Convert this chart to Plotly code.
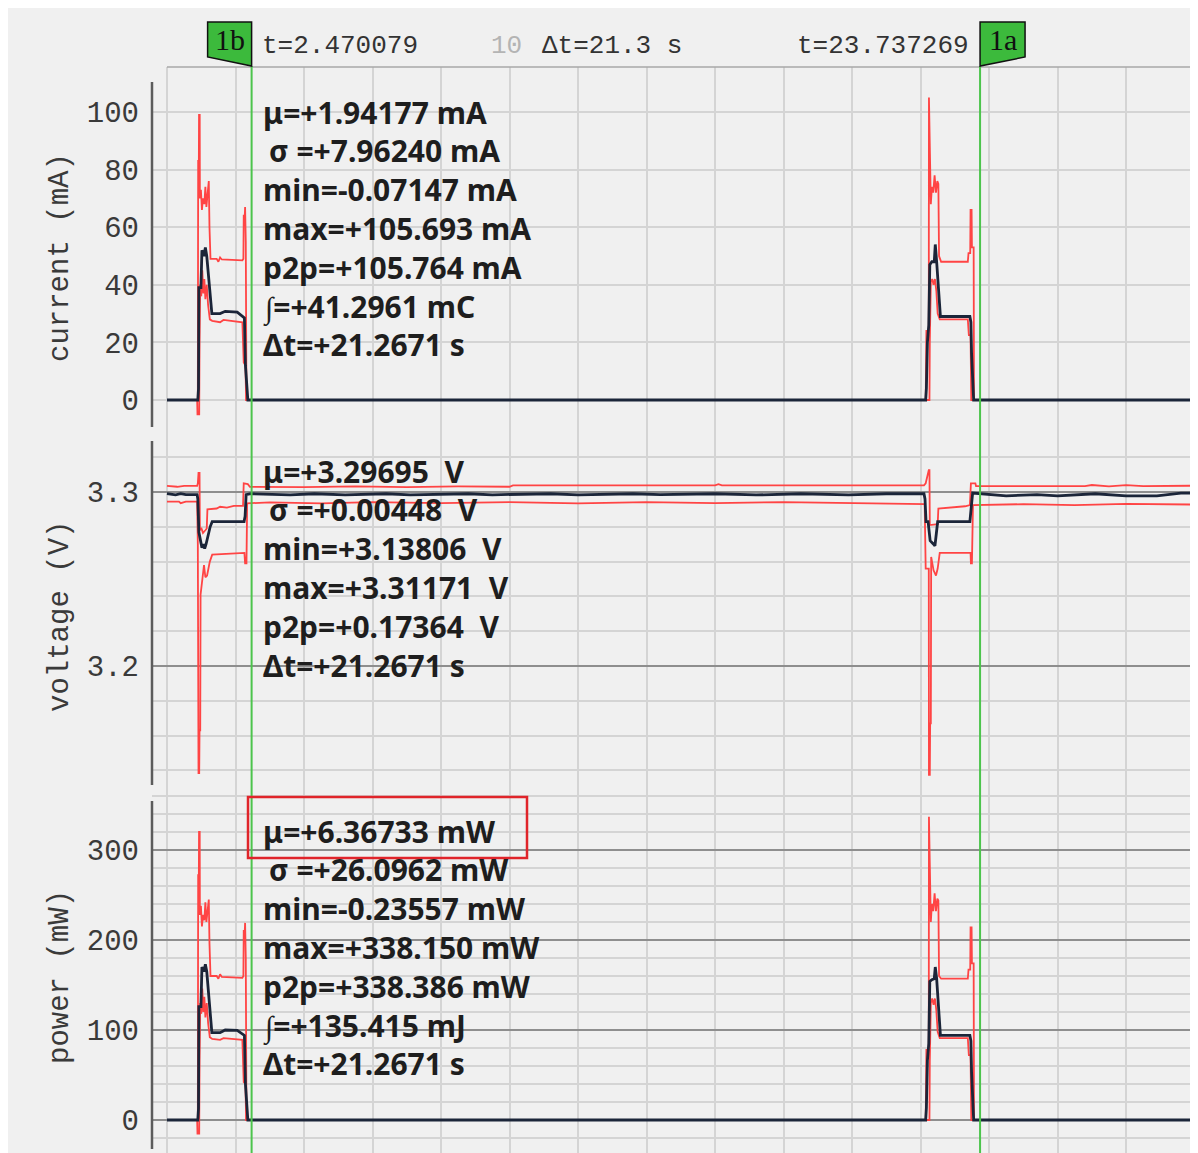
import plotly.graph_objects as go
from plotly.subplots import make_subplots

# the page puts the figure 8px in from the top-left corner of a 1198x1153 window
W, H = 1190, 1145
OFF = 8

# cursor positions (s)
cursor_b = 2.470079
cursor_a = 23.737269

# (time s, value) pairs
cur_mean = [(0, 0), (0.90, 0), (0.92, 4), (0.93, 39), (0.99, 39), (1.02, 52), (1.08, 50), (1.12, 53),
            (1.16, 50), (1.28, 32), (1.31, 30), (1.55, 30), (1.70, 30.8), (2.05, 30.5), (2.15, 29.5),
            (2.26, 28.5), (2.29, 12), (2.33, 5), (2.36, 0), (22.15, 0), (22.17, 4), (22.20, 20),
            (22.24, 26), (22.27, 47), (22.33, 48), (22.40, 48), (22.43, 54), (22.47, 48), (22.55, 36),
            (22.58, 29), (23.44, 29), (23.47, 27), (23.49, 16), (23.55, 0), (29.96, 0)]
cur_max = [(0, 0), (0.90, 0), (0.91, 83), (0.93, 83), (0.935, 99), (0.955, 99), (0.96, 70), (0.99, 73),
           (1.02, 66), (1.05, 70), (1.09, 68), (1.12, 74), (1.15, 67), (1.19, 72), (1.22, 76), (1.24, 60),
           (1.27, 49), (1.45, 49), (1.50, 48), (1.55, 49.5), (1.60, 48.8), (2.20, 48.5), (2.23, 49),
           (2.24, 64), (2.27, 64), (2.28, 67), (2.30, 55), (2.32, 0), (22.15, 0), (22.17, 24), (22.24, 24),
           (22.245, 105), (22.26, 95), (22.28, 80), (22.30, 68), (22.33, 74), (22.37, 72), (22.41, 78),
           (22.45, 72), (22.49, 76), (22.52, 75), (22.54, 50), (22.60, 48), (23.38, 48), (23.40, 51),
           (23.45, 51), (23.46, 66), (23.49, 66), (23.50, 53), (23.55, 53), (23.56, 0), (29.96, 0)]
cur_min = [(0, 0), (0.88, 0), (0.89, -5), (0.94, -5), (0.95, 20), (0.97, 40), (1.00, 36), (1.03, 45),
           (1.06, 37), (1.09, 42), (1.12, 35), (1.16, 40), (1.20, 33), (1.25, 28), (1.32, 27.5),
           (1.55, 27), (1.65, 27.8), (2.20, 27), (2.24, 13), (2.29, 12), (2.31, 0), (22.15, 0),
           (22.26, 0), (22.27, 20), (22.30, 41), (22.34, 42), (22.38, 40), (22.42, 42), (22.46, 38),
           (22.50, 30), (22.56, 28), (23.38, 28), (23.41, 22.5), (23.46, 22.5), (23.48, 0), (29.96, 0)]

volt_mean = [(0, 3.2990), (0.25, 3.2983), (0.40, 3.2990), (0.55, 3.2985), (0.88, 3.2985), (0.90, 3.2960),
             (0.93, 3.2770), (1.02, 3.2680), (1.06, 3.2700), (1.10, 3.2675), (1.14, 3.2700),
             (1.20, 3.2760), (1.26, 3.2800), (1.32, 3.2830), (2.25, 3.2830), (2.28, 3.2860),
             (2.31, 3.2985), (2.45, 3.2990), (3.6, 3.2983), (4.3, 3.2990), (5.2, 3.2984), (6.4, 3.2990),
             (7.1, 3.2983), (8.8, 3.2990), (9.5, 3.2984), (11.2, 3.2990), (12.0, 3.2983), (13.6, 3.2990),
             (14.4, 3.2985), (16.0, 3.2990), (17.2, 3.2983), (18.5, 3.2990), (19.9, 3.2984),
             (21.0, 3.2990), (22.10, 3.2990), (22.13, 3.2960), (22.16, 3.2830), (22.22, 3.2830),
             (22.28, 3.2720), (22.38, 3.2700), (22.42, 3.2690), (22.46, 3.2760), (22.50, 3.2830),
             (23.44, 3.2830), (23.47, 3.2900), (23.52, 3.2994), (24.5, 3.2978), (25.4, 3.2985),
             (26.0, 3.2978), (27.1, 3.2990), (28.0, 3.2978), (28.9, 3.2978), (29.6, 3.2994), (29.96, 3.2994)]
volt_max = [(0, 3.3035), (0.30, 3.3030), (0.50, 3.3035), (0.88, 3.3035), (0.90, 3.3050), (0.92, 3.3110),
            (0.95, 3.3110), (0.96, 3.2780), (1.00, 3.2795), (1.05, 3.2765), (1.12, 3.2780),
            (1.16, 3.2790), (1.18, 3.2900), (1.45, 3.2905), (1.55, 3.2915), (1.75, 3.2910),
            (1.95, 3.2920), (2.22, 3.2920), (2.24, 3.3050), (2.36, 3.3045), (2.42, 3.3030),
            (4.0, 3.3028), (5.5, 3.3032), (7.0, 3.3028), (8.5, 3.3032), (10.0, 3.3030), (10.1, 3.3038),
            (16.0, 3.3038), (16.1, 3.3045), (16.2, 3.3038), (22.10, 3.3038), (22.15, 3.3050),
            (22.24, 3.3126), (22.26, 3.3126), (22.27, 3.2810), (22.50, 3.2815), (22.52, 3.2905),
            (22.90, 3.2910), (23.30, 3.2918), (23.44, 3.2925), (23.47, 3.3050), (23.60, 3.3050),
            (23.62, 3.3034), (26.8, 3.3034), (27.0, 3.3040), (27.5, 3.3032), (28.0, 3.3040),
            (28.5, 3.3034), (29.96, 3.3036)]
volt_min = [(0, 3.2945), (0.35, 3.2945), (0.40, 3.2936), (0.55, 3.2945), (0.88, 3.2945), (0.90, 3.2700),
            (0.92, 3.1385), (0.94, 3.1385), (0.95, 3.1630), (0.97, 3.1630), (0.98, 3.2410),
            (1.03, 3.2480), (1.08, 3.2580), (1.12, 3.2510), (1.17, 3.2520), (1.25, 3.2600),
            (1.32, 3.2640), (2.26, 3.2650), (2.28, 3.2590), (2.32, 3.2590), (2.34, 3.2935),
            (3.0, 3.2940), (4.5, 3.2935), (6.0, 3.2942), (8.0, 3.2936), (10.0, 3.2942), (12.0, 3.2935),
            (14.0, 3.2942), (16.0, 3.2936), (18.0, 3.2942), (20.0, 3.2936), (22.12, 3.2930),
            (22.15, 3.2560), (22.24, 3.2560), (22.245, 3.1374), (22.27, 3.1374), (22.28, 3.1670),
            (22.30, 3.1670), (22.31, 3.2627), (22.38, 3.2550), (22.45, 3.2520), (22.50, 3.2560),
            (22.56, 3.2650), (23.46, 3.2650), (23.47, 3.2590), (23.50, 3.2590), (23.53, 3.2925),
            (25.0, 3.2930), (26.5, 3.2924), (28.0, 3.2932), (29.96, 3.2928)]

pow_mean = [(0, 0), (0.90, 0), (0.92, 13), (0.93, 126), (0.99, 126), (1.02, 170), (1.08, 165), (1.12, 173),
            (1.16, 165), (1.28, 105), (1.31, 97), (1.55, 97), (1.70, 100), (2.05, 99.5), (2.15, 97),
            (2.26, 94), (2.29, 40), (2.33, 15), (2.36, 0), (22.15, 0), (22.17, 13), (22.20, 66),
            (22.24, 85), (22.27, 154), (22.33, 156), (22.40, 157), (22.43, 170), (22.47, 157),
            (22.55, 115), (22.58, 94), (23.44, 94), (23.47, 88), (23.49, 53), (23.55, 0), (29.96, 0)]
pow_max = [(0, 0), (0.90, 0), (0.91, 272), (0.93, 272), (0.935, 320), (0.955, 320), (0.96, 228), (0.99, 238),
           (1.02, 215), (1.05, 228), (1.09, 222), (1.12, 242), (1.15, 220), (1.19, 235), (1.22, 245),
           (1.24, 196), (1.27, 160), (1.45, 160), (1.50, 157), (1.55, 162), (1.60, 159), (2.20, 158),
           (2.23, 160), (2.24, 210), (2.27, 210), (2.28, 219), (2.30, 180), (2.32, 0), (22.15, 0),
           (22.17, 78), (22.24, 78), (22.245, 337), (22.26, 305), (22.28, 255), (22.30, 220),
           (22.33, 240), (22.37, 232), (22.41, 252), (22.45, 232), (22.49, 246), (22.52, 244),
           (22.54, 160), (22.60, 157), (23.38, 157), (23.40, 167), (23.45, 167), (23.46, 214),
           (23.49, 214), (23.50, 174), (23.55, 174), (23.56, 0), (29.96, 0)]
pow_min = [(0, 0), (0.88, 0), (0.89, -15), (0.94, -15), (0.95, 65), (0.97, 130), (1.00, 118), (1.03, 146),
           (1.06, 120), (1.09, 137), (1.12, 114), (1.16, 130), (1.20, 108), (1.25, 92), (1.32, 90),
           (1.55, 89), (1.65, 91), (2.20, 89), (2.24, 42), (2.29, 40), (2.31, 0), (22.15, 0), (22.26, 0),
           (22.27, 65), (22.30, 130), (22.34, 135), (22.38, 128), (22.42, 135), (22.46, 122),
           (22.50, 98), (22.56, 91), (23.38, 91), (23.41, 72), (23.46, 72), (23.48, 0), (29.96, 0)]

current_ticks = [0, 20, 40, 60, 80, 100]
voltage_ticks = [3.2, 3.3]
power_ticks = [0, 100, 200, 300]

stats_current = ["μ=+1.94177 mA", "σ =+7.96240 mA", "min=-0.07147 mA", "max=+105.693 mA",
                 "p2p=+105.764 mA", "∫=+41.2961 mC", "Δt=+21.2671 s"]
stats_voltage = ["μ=+3.29695\u00a0 V", "σ =+0.00448\u00a0 V", "min=+3.13806\u00a0 V", "max=+3.31171\u00a0 V",
                 "p2p=+0.17364\u00a0 V", "Δt=+21.2671 s"]
stats_power = ["μ=+6.36733 mW", "σ =+26.0962 mW", "min=-0.23557 mW", "max=+338.150 mW",
               "p2p=+338.386 mW", "∫=+135.415 mJ", "Δt=+21.2671 s"]

BG = "#f0f0f0"
RED = "#ff4444"
NAVY = "#1b2539"
GREEN = "#3cba3c"
LIGHT_GRID = "#d4d4d4"
DARK_GRID = "#8e8e8e"
TXT = "#3a3a3a"
MONO = "Liberation Mono"


def px(x):
    # window pixel -> paper fraction
    return (x - OFF) / W


def py(y):
    return 1 - (y - OFF) / H


fig = make_subplots(rows=3, cols=1, shared_xaxes=True, vertical_spacing=0)

panels = [(cur_mean, cur_max, cur_min), (volt_mean, volt_max, volt_min), (pow_mean, pow_max, pow_min)]
for row, (mean, hi, lo) in enumerate(panels, start=1):
    for series, color, width in [(hi, RED, 1.8), (lo, RED, 1.8), (mean, NAVY, 2.8)]:
        t, v = zip(*series)
        fig.add_trace(go.Scatter(x=t, y=v, mode="lines", line=dict(color=color, width=width),
                                 hoverinfo="skip"), row=row, col=1)

# panel extents in window pixels: (top, bottom)
domains = [(67, 434), (434, 793), (793, 1153)]
for i, (top, bot) in enumerate(domains, start=1):
    fig.update_xaxes(row=i, col=1, domain=[px(152), 1], range=[-0.438, 30.1], tick0=0, dtick=2,
                     showticklabels=False, showgrid=True, gridcolor=LIGHT_GRID, gridwidth=1.5,
                     zeroline=False, showline=False, ticks="")
    fig.update_yaxes(row=i, col=1, domain=[py(bot), py(top)])

tickfont = dict(family=MONO, size=29, color=TXT)
fig.update_yaxes(row=1, col=1, range=[-11.806, 115.625], tickvals=current_ticks, gridcolor=LIGHT_GRID,
                 gridwidth=1.5, zeroline=False, ticks="", tickfont=tickfont, ticklabelstandoff=12)
fig.update_yaxes(row=2, col=1, range=[3.12701, 3.33333], tickvals=voltage_ticks, ticktext=["3.2", "3.3"],
                 gridcolor=DARK_GRID, gridwidth=1.5, zeroline=False, ticks="", tickfont=tickfont,
                 ticklabelstandoff=12,
                 minor=dict(tick0=3.2, dtick=0.02, showgrid=True, gridcolor=LIGHT_GRID, gridwidth=1.5))
fig.update_yaxes(row=3, col=1, range=[-36.67, 363.33], tickvals=power_ticks, gridcolor=DARK_GRID,
                 gridwidth=1.5, zeroline=False, ticks="", tickfont=tickfont, ticklabelstandoff=12,
                 minor=dict(tick0=0, dtick=20, showgrid=True, gridcolor=LIGHT_GRID, gridwidth=1.5))

shapes = []
# y axis lines
for top, bot in [(82, 427), (441, 785), (801, 1149)]:
    shapes.append(dict(type="line", xref="paper", yref="paper", x0=px(152), x1=px(152),
                       y0=py(bot), y1=py(top), line=dict(color="#5c5c5c", width=2.5)))
# top border of the plot region
shapes.append(dict(type="line", xref="x", yref="paper", x0=0, x1=30.1, y0=py(67), y1=py(67),
                   line=dict(color="#a8a8a8", width=1.5)))
# cursors and flags
for t, path in [(cursor_b, "M0,0 L0,44 L-44,44 L-44,9 Z"), (cursor_a, "M0,0 L0,44 L45,44 L45,9 Z")]:
    shapes.append(dict(type="line", xref="x", yref="paper", x0=t, x1=t, y0=0, y1=py(66),
                       line=dict(color="#4cc44c", width=2)))
    shapes.append(dict(type="path", xref="x", yref="paper", xsizemode="pixel", ysizemode="pixel",
                       xanchor=t, yanchor=py(66), path=path, fillcolor=GREEN,
                       line=dict(color="#111111", width=1.5)))
# highlight box around power mean
shapes.append(dict(type="rect", xref="paper", yref="paper", x0=px(248), x1=px(527), y0=py(858), y1=py(797),
                   line=dict(color="#e0242a", width=2.5), fillcolor="rgba(0,0,0,0)"))

ann = []
flagfont = dict(family="Liberation Serif", size=30, color="#111111")
ann.append(dict(x=cursor_b, xref="x", xshift=-22, y=py(40), yref="paper", yanchor="middle", text="1b",
                showarrow=False, font=flagfont))
ann.append(dict(x=cursor_a, xref="x", xshift=23, y=py(40), yref="paper", yanchor="middle", text="1a",
                showarrow=False, font=flagfont))
# header texts
hdr = dict(family=MONO, size=26, color="#333333")
ann.append(dict(x=cursor_b, xref="x", xshift=8, xanchor="left", y=py(46), yref="paper", yanchor="middle",
                text="t=2.470079", showarrow=False, font=hdr))
ann.append(dict(x=cursor_a, xref="x", xshift=-9, xanchor="right", y=py(46), yref="paper", yanchor="middle",
                text="t=23.737269", showarrow=False, font=hdr))
ann.append(dict(x=px(489), xref="paper", xanchor="left", y=py(46), yref="paper", yanchor="middle",
                text="10", showarrow=False, font=dict(family=MONO, size=26, color="#b4b4b4")))
ann.append(dict(x=px(540), xref="paper", xanchor="left", y=py(46), yref="paper", yanchor="middle",
                text="Δt=21.3 s", showarrow=False, font=hdr))
# axis titles
for title, yc in [("current (mA)", 258), ("voltage (V)", 617), ("power (mW)", 977)]:
    ann.append(dict(x=px(60), xref="paper", xanchor="center", y=py(yc), yref="paper", yanchor="middle",
                    text=title, textangle=-90, showarrow=False, font=dict(family=MONO, size=29, color=TXT)))
# statistics
sfont = dict(family="Noto Sans", size=30, color="#1e1e1e", weight="bold")
for lines, y0 in [(stats_current, 112), (stats_voltage, 471), (stats_power, 831)]:
    for k, line in enumerate(lines):
        ann.append(dict(x=cursor_b, xref="x", xanchor="left", xshift=9 + (6 if line.startswith("σ") else 0),
                        y=py(y0 + k * 38.8), yref="paper", yanchor="middle", text=line,
                        showarrow=False, font=sfont))

fig.update_layout(width=W, height=H, margin=dict(l=0, r=0, t=0, b=0), paper_bgcolor=BG, plot_bgcolor=BG,
                  showlegend=False, shapes=shapes, annotations=ann)

fig.write_html("out.html")
